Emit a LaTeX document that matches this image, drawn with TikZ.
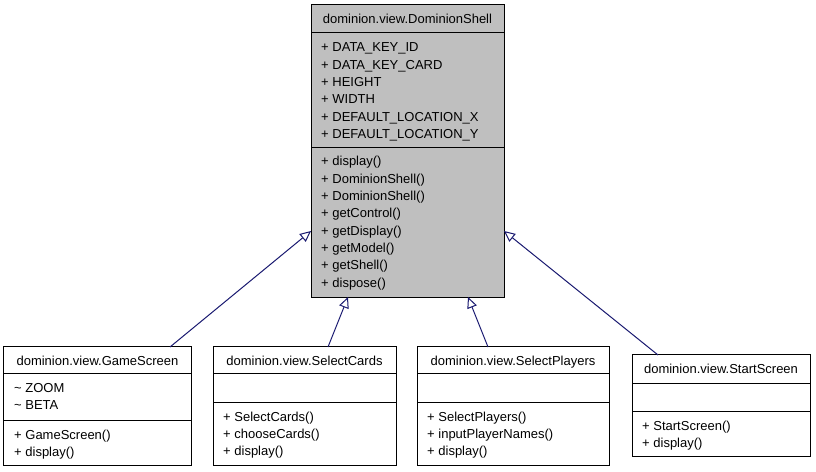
\documentclass[tikz,border=0pt]{standalone}
\usepackage{fontspec}
\setmainfont{Liberation Sans}
\usetikzlibrary{arrows.meta}
\definecolor{edgeblue}{HTML}{191970}
\definecolor{basegray}{HTML}{BFBFBF}
\tikzset{
  classbox/.style={draw=black, line width=1bp, inner sep=0pt, outer sep=0pt, rectangle},
  sepline/.style={draw=black, line width=1bp},
  member/.style={anchor=base west, inner sep=0pt, font=\fontsize{13bp}{16bp}\selectfont},
  classtitle/.style={anchor=base, inner sep=0pt, font=\fontsize{13bp}{16bp}\selectfont},
  inherit/.style={draw=edgeblue, line width=1bp,
    -{Triangle[length=11bp, width=10bp, fill=white]}}
}
\begin{document}
\begin{tikzpicture}[x=1bp, y=-1bp]
\useasboundingbox (0,0) rectangle (816,472);

% ---- base class ----
\node[classbox, fill=basegray, minimum width=193bp, minimum height=292bp] (shell) at (407.5,151) {};
\draw[sepline] (shell.west |- 0,33) -- (shell.east |- 0,33);
\draw[sepline] (shell.west |- 0,148) -- (shell.east |- 0,148);
\node[classtitle] (shell-title) at (407.5,24) {dominion.view.DominionShell};
\foreach \t [count=\i] in {+ DATA\_KEY\_ID, + DATA\_KEY\_CARD, + HEIGHT, + WIDTH,
    + DEFAULT\_LOCATION\_X, + DEFAULT\_LOCATION\_Y}
  \node[member] (shell-a\i) at (321, 52+17.3*\i-17.3) {\t};
\foreach \t [count=\i] in {+ display(), + DominionShell(), + DominionShell(), + getControl(),
    + getDisplay(), + getModel(), + getShell(), + dispose()}
  \node[member] (shell-m\i) at (321, 166+17.3*\i-17.3) {\t};

% ---- GameScreen ----
\node[classbox, minimum width=187bp, minimum height=118bp] (gs) at (97.5,406) {};
\draw[sepline] (gs.west |- 0,373) -- (gs.east |- 0,373);
\draw[sepline] (gs.west |- 0,420) -- (gs.east |- 0,420);
\node[classtitle] (gs-title) at (97.5,366) {dominion.view.GameScreen};
\foreach \t [count=\i] in {\textasciitilde{} ZOOM, \textasciitilde{} BETA}
  \node[member] (gs-a\i) at (14, 392+17.3*\i-17.3) {\t};
\foreach \t [count=\i] in {+ GameScreen(), + display()}
  \node[member] (gs-m\i) at (14, 439+17.3*\i-17.3) {\t};

% ---- SelectCards ----
\node[classbox, minimum width=183bp, minimum height=118bp] (sc) at (304.5,406) {};
\draw[sepline] (sc.west |- 0,373) -- (sc.east |- 0,373);
\draw[sepline] (sc.west |- 0,402) -- (sc.east |- 0,402);
\node[classtitle] (sc-title) at (304.5,366) {dominion.view.SelectCards};
\foreach \t [count=\i] in {+ SelectCards(), + chooseCards(), + display()}
  \node[member] (sc-m\i) at (223, 421+17.3*\i-17.3) {\t};

% ---- SelectPlayers ----
\node[classbox, minimum width=192bp, minimum height=118bp] (sp) at (513,406) {};
\draw[sepline] (sp.west |- 0,373) -- (sp.east |- 0,373);
\draw[sepline] (sp.west |- 0,402) -- (sp.east |- 0,402);
\node[classtitle] (sp-title) at (513,366) {dominion.view.SelectPlayers};
\foreach \t [count=\i] in {+ SelectPlayers(), + inputPlayerNames(), + display()}
  \node[member] (sp-m\i) at (427, 421+17.3*\i-17.3) {\t};

% ---- StartScreen ----
\node[classbox, minimum width=178bp, minimum height=101bp] (ss) at (721,405.5) {};
\draw[sepline] (ss.west |- 0,383) -- (ss.east |- 0,383);
\draw[sepline] (ss.west |- 0,411) -- (ss.east |- 0,411);
\node[classtitle] (ss-title) at (721,374) {dominion.view.StartScreen};
\foreach \t [count=\i] in {+ StartScreen(), + display()}
  \node[member] (ss-m\i) at (642, 430+17.3*\i-17.3) {\t};

% ---- generalisation edges ----
\draw[inherit] ([xshift=72.5bp]gs.north) -- ([yshift=-80bp]shell.west);
\draw[inherit] ([xshift=23.5bp]sc.north) -- ([xshift=-59.5bp]shell.south);
\draw[inherit] ([xshift=-25bp]sp.north) -- ([xshift=60.5bp]shell.south);
\draw[inherit] ([xshift=-63bp]ss.north) -- ([yshift=-80bp]shell.east);
\end{tikzpicture}
\end{document}
